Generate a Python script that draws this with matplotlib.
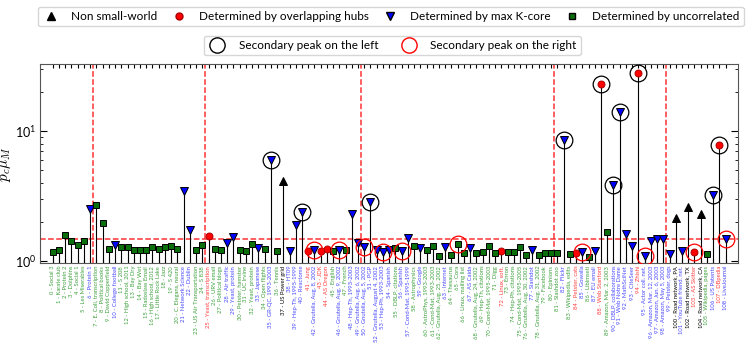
import numpy as np
import matplotlib
matplotlib.use("Agg")
import matplotlib.pyplot as plt
from matplotlib.lines import Line2D

plt.rcParams['font.family'] = ['Lato', 'DejaVu Sans']
plt.rcParams['mathtext.fontset'] = 'cm'

names = ["Social 3", "Karate club", "Protein 2", "Dolphins", "Social 1", "Les Miserables",
         "Protein 1", "E. Coli, transcription", "Political books", "David Copperfield",
         "College football", "S 208", "High school, 2011", "Bay Dry", "Bay Wet",
         "Radoslaw Email", "High school, 2012", "Little Rock Lake", "Jazz", "S 420",
         "C. Elegans, neural", "Network Science", "Dublin", "US Air Transportation", "S 838",
         "Yeast, transcription", "URV email", "Political blogs", "Air traffic", "Yeast, protein",
         "Petster, hamster", "UC Irvine", "Yeast, protein", "Japanese", "Open flights",
         "GR-QC, 1993-2003", "Tennis", "US Power grid", "HT09", "Hep-Th, 1995-1999",
         "Reactome", "Jung", "Gnutella, Aug. 8, 2002", "JDK", "AS Oregon", "English",
         "Gnutella, Aug. 9, 2002", "French", "Hep-Th, 1993-2003", "Gnutella, Aug. 6, 2002",
         "Gnutella, Aug. 5, 2002", "PGP", "Gnutella, August 4, 2002", "Hep-Ph, 1993-2003",
         "Spanish", "DBLP, citations", "Spanish", "Cond-Mat, 1995-1999", "Astrophysics",
         "Google", "AstroPhys, 1993-2003", "Cond-Mat, 1993-2003", "Gnutella, Aug. 25, 2002",
         "Internet", "Thesaurus", "Cora", "Linux, mailing list", "AS Caida",
         "Gnutella, Aug. 24, 2002", "Hep-Th, citations", "Cond-Mat, 1995-2003", "Digg",
         "Linux, soft.", "Enron", "Hep-Ph, citations", "Cond-Mat, 1995-2005",
         "Gnutella, Aug. 30, 2002", "Slashdot", "Gnutella, Aug. 31, 2002", "Facebook",
         "Epinions", "Slashdot zoo", "Flickr", "Wikipedia, edits", "Petster, cats", "Gowalla",
         "Libimseti", "EU email", "Web Stanford", "Amazon, Mar. 2, 2003",
         "DBLP, collaborations", "Web Notre Dame", "MathSciNet", "CiteSeer", "Zhishi",
         "Actor coll. net.", "Amazon, Mar. 12, 2003", "Amazon, Jun. 6, 2003",
         "Amazon, May 5, 2003", "Petster, dogs", "Road network, PA", "YouTube friend. net.",
         "Road network, TX", "AS Skitter", "Road network, CA", "Wikipedia, pages",
         "US Patents", "DBpedia", "LiveJournal"]

pc_muM = [1.16, 1.22, 1.57, 1.43, 1.32, 1.41, 2.51, 2.69, 1.95, 1.24,
          1.32, 1.28, 1.27, 1.21, 1.20, 1.20, 1.28, 1.23, 1.27, 1.30,
          1.24, 3.43, 1.74, 1.22, 1.33, 1.56, 1.24, 1.22, 1.38, 1.53,
          1.22, 1.18, 1.35, 1.26, 1.23, 5.95, 1.18, 4.10, 1.19, 1.90,
          2.36, 1.19, 1.21, 1.19, 1.24, 1.19, 1.21, 1.22, 2.28, 1.38,
          1.27, 2.82, 1.21, 1.16, 1.21, 1.26, 1.19, 1.51, 1.31, 1.26,
          1.20, 1.31, 1.08, 1.27, 1.10, 1.34, 1.15, 1.25, 1.15, 1.17,
          1.30, 1.15, 1.19, 1.16, 1.17, 1.27, 1.11, 1.20, 1.11, 1.15,
          1.14, 1.14, 8.60, 1.13, 1.15, 1.16, 1.07, 1.19, 23.3, 1.68,
          3.86, 14.2, 1.61, 1.31, 28.1, 1.09, 1.42, 1.46, 1.46, 1.13,
          2.14, 1.19, 2.62, 1.16, 2.29, 1.13, 3.23, 7.82, 1.48]

nonsw_idx = [37, 100, 102, 104]
hubs_idx = [25, 41, 43, 44, 72, 84, 88, 94, 103, 107]
kcore_idx = [6, 10, 21, 22, 28, 29, 33, 35, 38, 39, 40, 42, 46, 48, 49, 50, 51, 52,
             53, 54, 56, 57, 59, 63, 67, 77, 82, 85, 87, 90, 91, 92, 93, 95, 96, 97,
             98, 99, 101, 106, 108]
peak_left_idx = [35, 40, 51, 82, 88, 90, 91, 94, 106, 107]
peak_right_idx = [42, 46, 50, 53, 56, 65, 85, 95, 103, 108]

threshold = 1.48
group_breaks = [6.5, 24.5, 49.5, 80.5, 98.5]

n = len(pc_muM)
x = np.arange(n)
y = np.array(pc_muM)
kind = np.array(['u'] * n)
kind[nonsw_idx] = 'n'
kind[hubs_idx] = 'h'
kind[kcore_idx] = 'k'

fig = plt.figure(figsize=(7.47, 3.54), dpi=100)
ax = fig.add_axes([0.054, 0.257, 0.934, 0.562])
ymin, ymax = 0.96, 33
ax.set_xlim(-2, 110)
ax.set_ylim(ymin, ymax)
ax.set_yscale('log')

ax.vlines(x, ymin, y, color='k', lw=0.8, zorder=2)
for b in group_breaks:
    ax.axvline(b, color='red', ls='--', lw=1.1, alpha=0.8, zorder=1)
ax.axhline(threshold, color='red', ls='--', lw=1.1, alpha=0.8, zorder=1)

styles = {
    'n': dict(marker='^', mfc='black', mec='black', ms=5.5),
    'h': dict(marker='o', mfc='red', mec='#aa0000', ms=5),
    'k': dict(marker='v', mfc='blue', mec='black', ms=5.5),
    'u': dict(marker='s', mfc='#0a6e0a', mec='black', ms=5),
}
for k, st in styles.items():
    m = kind == k
    ax.plot(x[m], y[m], ls='none', mew=0.7, zorder=4, **st)

ax.plot(x[peak_left_idx], y[peak_left_idx], ls='none', marker='o', ms=12,
        mfc='none', mec='black', mew=0.9, zorder=5)
ax.plot(x[peak_right_idx], y[peak_right_idx], ls='none', marker='o', ms=12,
        mfc='none', mec='red', mew=0.9, zorder=5)

label_colors = {'n': 'black', 'h': '#ff3b3b', 'k': '#4848ff', 'u': '#3ca03c'}
ax.set_xticks(x)
ax.set_xticklabels([f"{i} - {s}" for i, s in enumerate(names)], rotation=90, fontsize=4.2)
for lab, k in zip(ax.get_xticklabels(), kind):
    lab.set_color(label_colors[k])

ax.tick_params(which='both', direction='in', top=True, right=True)
ax.tick_params(axis='x', length=3, pad=2)
ax.tick_params(axis='y', which='major', length=5, labelsize=9, pad=3)
ax.tick_params(axis='y', which='minor', length=2.5)
ax.set_ylabel(r'$p_c\mu_M$', fontsize=11, labelpad=1)
for s in ax.spines.values():
    s.set_color('#555555')

h1 = [Line2D([], [], ls='none', marker='^', color='black', ms=5.5, label='Non small-world'),
      Line2D([], [], ls='none', marker='o', mfc='red', mec='#aa0000', ms=5,
             label='Determined by overlapping hubs'),
      Line2D([], [], ls='none', marker='v', mfc='blue', mec='black', ms=5.5,
             label='Determined by max K-core'),
      Line2D([], [], ls='none', marker='s', mfc='#0a6e0a', mec='black', ms=5,
             label='Determined by uncorrelated')]
h2 = [Line2D([], [], ls='none', marker='o', mfc='none', mec='black', ms=11,
             label='Secondary peak on the left'),
      Line2D([], [], ls='none', marker='o', mfc='none', mec='red', ms=11,
             label='Secondary peak on the right')]
leg1 = fig.legend(handles=h1, loc='upper center', bbox_to_anchor=(0.523, 0.997), ncol=4,
                  fontsize=8.5, frameon=True, fancybox=True, columnspacing=1.0,
                  handlelength=1.6, handletextpad=0.9, borderpad=0.35)
leg2 = fig.legend(handles=h2, loc='upper center', bbox_to_anchor=(0.525, 0.915), ncol=2,
                  fontsize=8.5, frameon=True, fancybox=True, columnspacing=1.8,
                  handlelength=1.6, handletextpad=1.0, borderpad=0.35)
fig.savefig("out.png", dpi=100)
